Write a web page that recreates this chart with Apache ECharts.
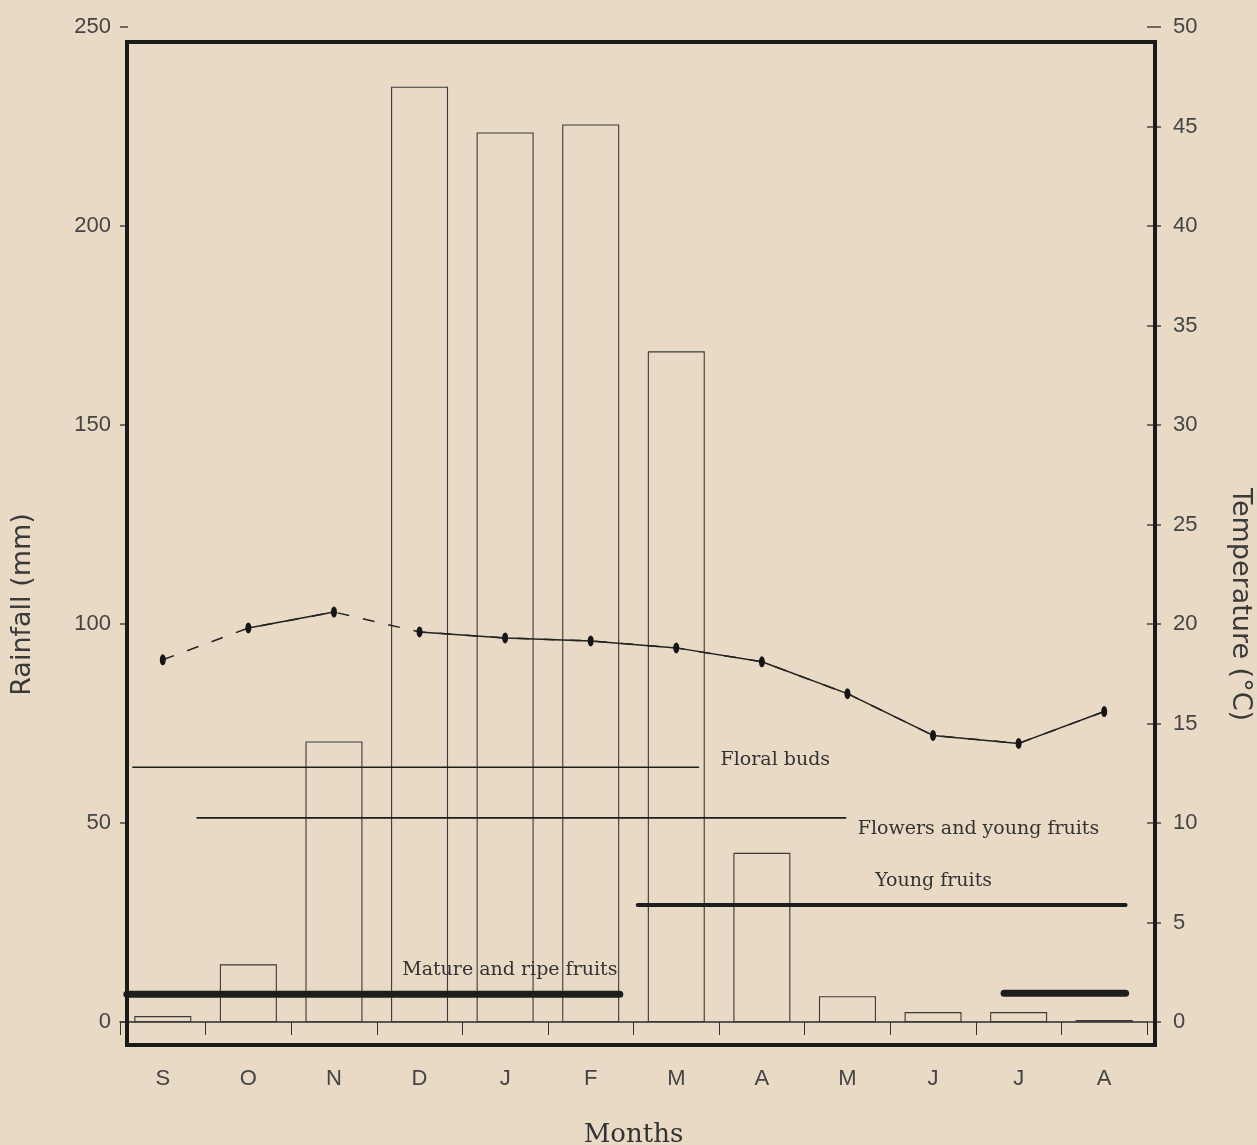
<!DOCTYPE html>
<html>
<head>
<meta charset="utf-8">
<script src="https://cdn.jsdelivr.net/npm/echarts@6/dist/echarts.min.js"></script>
<style>
html,body{margin:0;padding:0;background:#e9dac5;}
#chart{width:1257px;height:1145px;}
</style>
</head>
<body>
<div id="chart"></div>
<script>
// ---- data ----
const months = ['S','O','N','D','J','F','M','A','M','J','J','A'];
const rainfall = [1.5, 14.5, 70.5, 235, 223.5, 225.5, 168.5, 42.5, 6.5, 2.5, 2.5, 0.5];
const temperature = [18.2, 19.8, 20.6, 19.6, 19.3, 19.15, 18.8, 18.1, 16.5, 14.4, 14.0, 15.6];
const leftTicks = [0, 50, 100, 150, 200, 250];
const rightTicks = [0, 5, 10, 15, 20, 25, 30, 35, 40, 45, 50];
// temperature segments drawn solid (pairs of month indices); the others are dashed
const solidRuns = [[1, 2], [3, 11]];

// phenological phases (month index positions, level on rainfall scale)
const phaseNames  = ['Floral buds', 'Flowers and young fruits', 'Young fruits', 'Mature and ripe fruits', ''];
const phaseStart  = [-0.35, 0.40, 5.55, -0.42, 9.83];
const phaseEnd    = [6.26, 7.98, 11.25, 5.34, 11.25];
const phaseLevel  = [64, 51.3, 29.4, 7.0, 7.2];

// ---- styles (not data) ----
const phaseWidth = [1.6, 1.6, 4, 7, 7];
const phaseLabel = [
  {align:'left', offset:[14,-7]},
  {align:'left', offset:[4,11]},
  {align:'center', offset:[-200,-24]},
  {align:'center', offset:[-118,-24]},
  null
];

const ink = '#2a2a2a';
const sans = 'Liberation Sans, Arial, sans-serif';
const serif = 'DejaVu Serif, serif';

const phaseSeries = phaseNames.map((n, i) => ({
  type: 'line',
  name: 'phase' + i,
  xAxisIndex: 1,
  yAxisIndex: 0,
  data: [[phaseStart[i], phaseLevel[i]], [phaseEnd[i], phaseLevel[i]]],
  symbol: 'none',
  lineStyle: {color: '#1e1e1e', width: phaseWidth[i], cap: 'round'},
  z: 5,
  silent: true,
  animation: false,
  endLabel: phaseLabel[i] ? {
    show: true,
    formatter: n,
    fontFamily: serif,
    fontSize: 19,
    color: '#333',
    align: phaseLabel[i].align,
    verticalAlign: 'middle',
    offset: phaseLabel[i].offset
  } : {show: false}
}));

const solidSeries = solidRuns.map((r, k) => ({
  type: 'line',
  name: 'TemperatureSolid' + k,
  data: temperature.map((v, i) => (i >= r[0] && i <= r[1]) ? v : '-'),
  xAxisIndex: 0,
  yAxisIndex: 1,
  symbol: 'none',
  lineStyle: {color: '#222', width: 1.5},
  silent: true,
  z: 4
}));

const chart = echarts.init(document.getElementById('chart'), null, {renderer: 'canvas'});
chart.setOption({
  backgroundColor: '#e9dac5',
  animation: false,
  grid: {left: 120, right: 110, top: 27, bottom: 123, containLabel: false, outerBoundsMode: 'none'},
  xAxis: [
    {
      type: 'category',
      data: months,
      position: 'bottom',
      name: 'Months',
      nameLocation: 'middle',
      nameGap: 100,
      nameTextStyle: {fontFamily: serif, fontSize: 26, color: '#333'},
      axisLine: {show: true, onZero: true, lineStyle: {color: ink, width: 1.5}},
      axisTick: {show: true, length: 13, lineStyle: {color: '#333', width: 1}},
      axisLabel: {margin: 46, fontFamily: sans, fontSize: 22, color: '#444'},
      splitLine: {show: false}
    },
    {
      type: 'value',
      min: -0.5,
      max: 11.5,
      show: false
    }
  ],
  yAxis: [
    {
      type: 'value',
      min: 0, max: 250, interval: 50,
      position: 'left',
      name: 'Rainfall (mm)',
      nameLocation: 'middle',
      nameGap: 84,
      nameRotate: 90,
      nameTextStyle: {fontFamily: 'DejaVu Sans, sans-serif', fontSize: 27, color: '#3a3a3a', padding: [0, 160, 0, 0]},
      axisLine: {show: false, onZero: false},
      axisTick: {show: true, inside: true, length: 8, lineStyle: {color: '#444', width: 1.5}},
      axisLabel: {margin: 9, fontFamily: sans, fontSize: 22, color: '#444',
        formatter: v => leftTicks.indexOf(v) >= 0 ? String(v) : ''},
      splitLine: {show: false}
    },
    {
      type: 'value',
      min: 0, max: 50, interval: 5,
      position: 'right',
      name: 'Temperature (°C)',
      nameLocation: 'middle',
      nameGap: 80,
      nameRotate: -90,
      nameTextStyle: {fontFamily: 'DejaVu Sans, sans-serif', fontSize: 27, color: '#3a3a3a', padding: [0, 0, 0, 160]},
      axisLine: {show: false, onZero: false},
      axisTick: {show: true, length: 14, lineStyle: {color: '#444', width: 1.5}},
      axisLabel: {margin: 26, fontFamily: sans, fontSize: 22, color: '#444',
        formatter: v => rightTicks.indexOf(v) >= 0 ? String(v) : ''},
      splitLine: {show: false}
    }
  ],
  series: [
    {
      type: 'bar',
      name: 'Rainfall',
      data: rainfall,
      xAxisIndex: 0,
      yAxisIndex: 0,
      barWidth: 57,
      itemStyle: {color: 'rgba(0,0,0,0)', borderColor: '#3a3a3a', borderWidth: 1.1},
      silent: true,
      z: 2
    },
    {
      type: 'line',
      name: 'Temperature',
      data: temperature,
      xAxisIndex: 0,
      yAxisIndex: 1,
      symbol: 'circle',
      symbolSize: [6, 11],
      itemStyle: {color: '#151515'},
      lineStyle: {color: '#222', width: 1.5, type: [12, 14]},
      silent: true,
      z: 4
    }
  ].concat(solidSeries, phaseSeries),
  graphic: [
    {
      type: 'rect',
      shape: {x: 127, y: 42, width: 1028, height: 1003},
      style: {fill: 'none', stroke: '#1a1a1a', lineWidth: 4},
      z: 10,
      silent: true
    }
  ]
});
</script>
</body>
</html>
